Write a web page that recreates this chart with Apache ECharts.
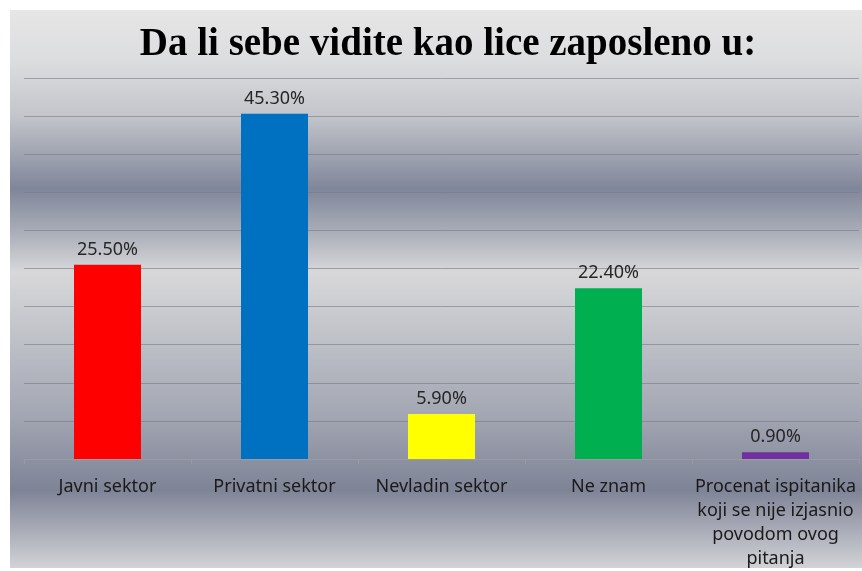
<!DOCTYPE html>
<html>
<head>
<meta charset="utf-8">
<script src="https://cdn.jsdelivr.net/npm/echarts@6/dist/echarts.min.js"></script>
<style>
  html, body { margin: 0; padding: 0; background: #fff; }
  #chart { width: 862px; height: 571px; }
</style>
</head>
<body>
<div id="chart"></div>
<script>
const titleText = 'Da li sebe vidite kao lice zaposleno u:'
const categories = [
  'Javni sektor',
  'Privatni sektor',
  'Nevladin sektor',
  'Ne znam',
  'Procenat ispitanika\nkoji se nije izjasnio\npovodom ovog\npitanja'
]
const values = [25.5, 45.3, 5.9, 22.4, 0.9]
const barColors = ['#ff0000', '#0070c0', '#ffff00', '#00b050', '#7030a0']

const chart = echarts.init(document.getElementById('chart'))

chart.setOption({
  animation: false,
  backgroundColor: '#ffffff',
  graphic: [
    {
      type: 'rect',
      z: -10,
      silent: true,
      shape: { x: 10, y: 10, width: 852, height: 558 },
      style: {
        fill: new echarts.graphic.LinearGradient(0, 0, 0, 1, [
          { offset: 0, color: '#e6e6e6' },
          { offset: 0.09, color: '#dcdddf' },
          { offset: 0.19, color: '#c3c5cb' },
          { offset: 0.32, color: '#80869a' },
          { offset: 0.4, color: '#abafb9' },
          { offset: 0.47, color: '#d8d8da' },
          { offset: 0.57, color: '#c3c5cb' },
          { offset: 0.73, color: '#a2a6b2' },
          { offset: 0.86, color: '#7e8396' },
          { offset: 1, color: '#d2d3d7' }
        ])
      }
    }
  ],
  title: {
    text: titleText,
    left: 443,
    top: 20,
    textAlign: 'center',
    textStyle: {
      fontFamily: 'Liberation Serif',
      fontWeight: 'bold',
      fontSize: 39,
      color: '#000'
    }
  },
  grid: {
    left: 24,
    right: 3,
    top: 78,
    bottom: 111
  },
  xAxis: {
    type: 'category',
    data: categories,
    axisLine: { lineStyle: { color: '#9a9ca3', width: 1 } },
    axisTick: { show: true, length: 5, lineStyle: { color: '#9a9ca3' } },
    axisLabel: {
      interval: 0,
      margin: 16,
      fontFamily: 'Noto Sans',
      fontSize: 18,
      lineHeight: 24,
      color: '#1a1a1a',
      align: 'center'
    }
  },
  yAxis: {
    type: 'value',
    min: 0,
    max: 50,
    interval: 5,
    axisLine: { show: false },
    axisTick: { show: false },
    axisLabel: { show: false },
    splitLine: { lineStyle: { color: 'rgba(120,122,130,0.6)', width: 1 } }
  },
  series: [
    {
      type: 'bar',
      barWidth: 67,
      data: values.map((v, i) => ({ value: v, itemStyle: { color: barColors[i] } })),
      label: {
        show: true,
        position: 'top',
        distance: 6,
        fontFamily: 'Noto Sans',
        fontSize: 18,
        color: '#262626',
        formatter: p => p.value.toFixed(2) + '%'
      }
    }
  ]
})
</script>
</body>
</html>
